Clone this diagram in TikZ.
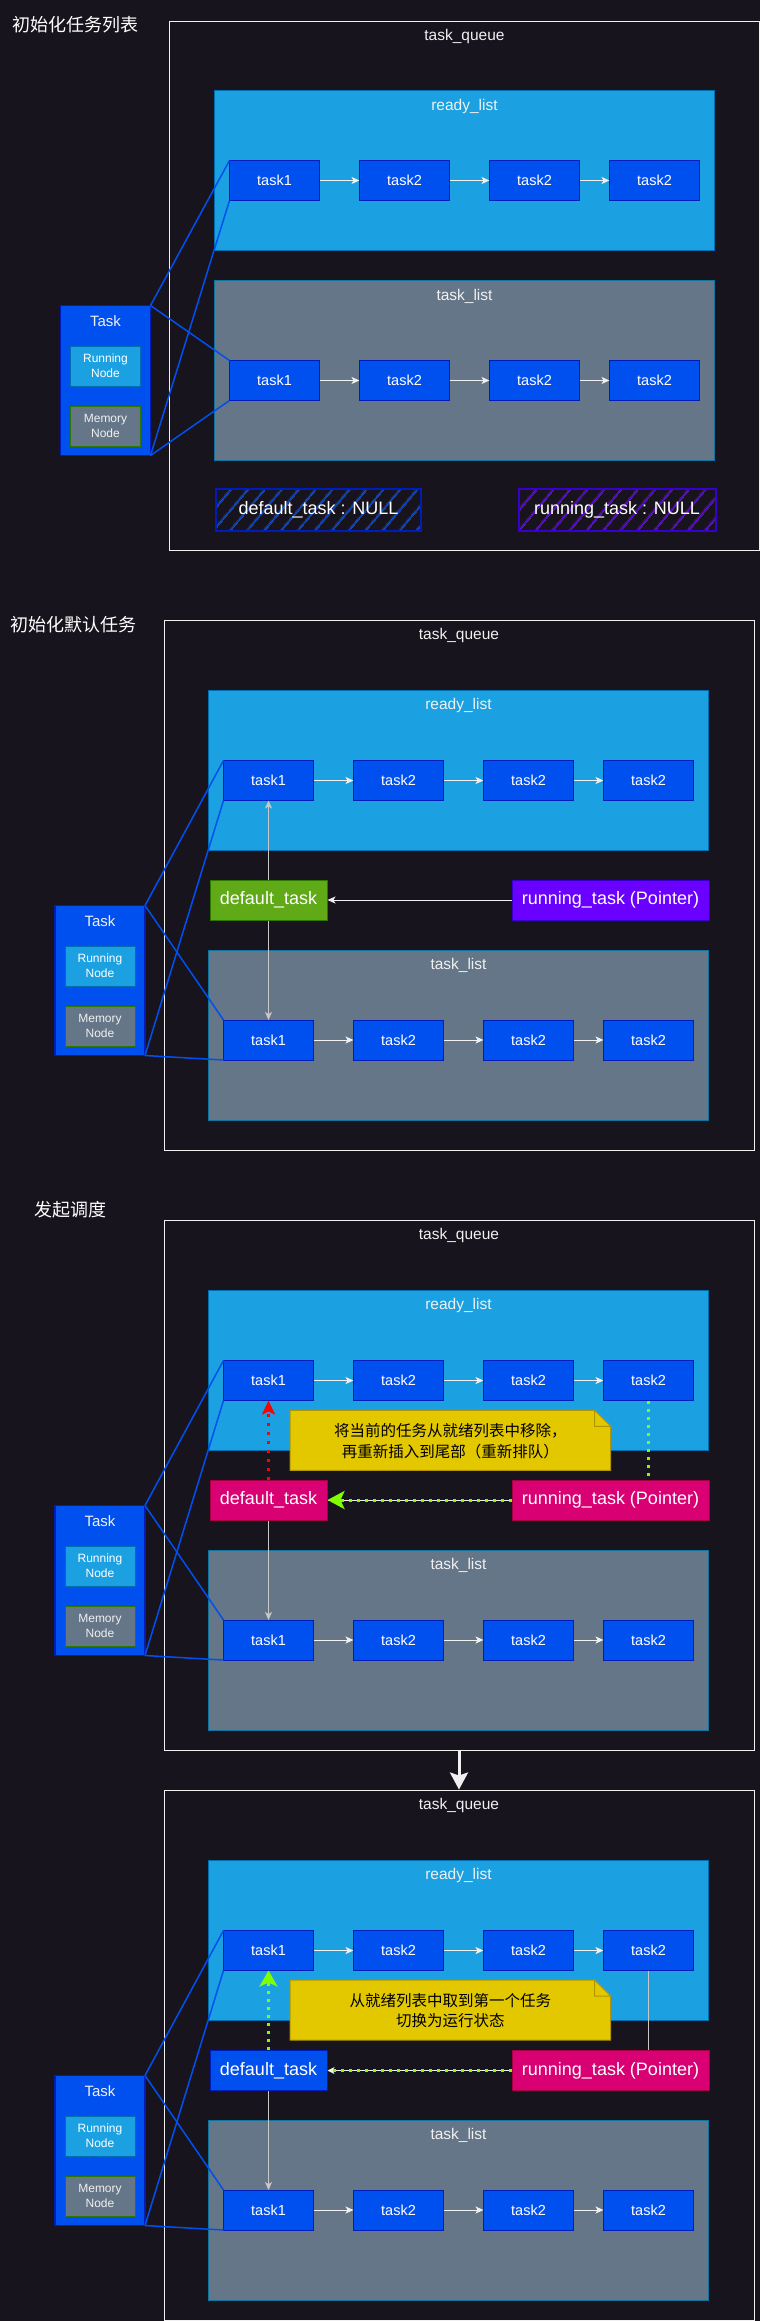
\documentclass[tikz,border=0pt]{standalone}
\usepackage{fontspec}
\setmainfont{Liberation Sans}
\newfontfamily\cjk{Noto Sans CJK SC}
\usepackage{tikz}
\usetikzlibrary{arrows.meta,shapes,positioning,calc,patterns.meta}
\definecolor{canvas}{HTML}{18141D}
\definecolor{taskblue}{HTML}{0050EF}
\definecolor{taskedge}{HTML}{001DBC}
\definecolor{readycyan}{HTML}{1BA1E2}
\definecolor{readyedge}{HTML}{006EAF}
\definecolor{listgrey}{HTML}{647687}
\definecolor{listedge}{HTML}{10739E}
\definecolor{defgreen}{HTML}{60A917}
\definecolor{defedge}{HTML}{2D7600}
\definecolor{runviolet}{HTML}{6A00FF}
\definecolor{runedge}{HTML}{3700CC}
\definecolor{pointmag}{HTML}{D80073}
\definecolor{magedge}{HTML}{A50040}
\definecolor{noteyellow}{HTML}{E3C800}
\definecolor{noteedge}{HTML}{B09500}
\definecolor{limegreen}{HTML}{80FF00}
\definecolor{softwhite}{HTML}{F0F0F0}
\definecolor{greywire}{HTML}{C8C8C8}

% one row of list entries
\newcommand{\taskrow}[3]{%
  \node[taskbox] (#1a) at (#2,#3) {task1};
  \node[taskbox, right=40pt of #1a] (#1b) {task2};
  \node[taskbox, right=40pt of #1b] (#1c) {task2};
  \node[taskbox, right=30pt of #1c] (#1d) {task2};
  \draw[link] (#1a) -- (#1b);
  \draw[link] (#1b) -- (#1c);
  \draw[link] (#1c) -- (#1d);}
% the Task struct on the left
\newcommand{\taskcard}[3]{%
  \node[cardbox] (#1) at (#2,#3) {};
  \node[cardtitle] (#1t) at ([yshift=-15.5pt]#1.north) {Task};
  \node[runnode, below=40pt of #1.north] (#1run) {Running\\Node};
  \node[memnode, below=20pt of #1run] (#1mem) {Memory\\Node};}
\newcommand{\zoomlines}[3]{%
  \draw[zoomline] (#1.north east) -- (#2.north west);
  \draw[zoomline] (#1.south east) -- (#2.south west);
  \draw[zoomline] (#1.north east) -- (#3.north west);
  \draw[zoomline] (#1.south east) -- (#3.south west);}

\begin{document}
\begin{tikzpicture}[
    x=1pt, y=-1pt,
    titletext/.style={anchor=west, inner sep=0pt, text=white, font=\cjk\fontsize{18}{22}\selectfont},
    queuebox/.style={rectangle, draw=softwhite, line width=1pt, minimum width=590pt, minimum height=530pt},
    readybox/.style={rectangle, draw=readyedge, fill=readycyan, line width=1pt, minimum width=500pt, minimum height=160pt},
    listbox/.style={rectangle, draw=listedge, fill=listgrey, line width=1pt, minimum width=500pt},
    headlabel/.style={inner sep=0pt, text=softwhite, font=\fontsize{15.5}{18}\selectfont},
    taskbox/.style={rectangle, draw=taskedge, fill=taskblue, minimum width=90pt, minimum height=40pt, inner sep=0pt, outer sep=0pt, text=white, font=\fontsize{14.5}{17}\selectfont},
    cardbox/.style={rectangle, draw=taskedge, fill=taskblue, line width=1.5pt, minimum width=90pt, minimum height=150pt, anchor=north, outer sep=0pt},
    cardtitle/.style={inner sep=0pt, text=softwhite, font=\fontsize{15}{18}\selectfont},
    runnode/.style={rectangle, draw=readyedge, fill=readycyan, minimum width=70pt, minimum height=40pt, inner sep=0pt, align=center, text=white, font=\fontsize{12}{15}\selectfont},
    memnode/.style={rectangle, draw=defedge, fill=listgrey, minimum width=70pt, minimum height=40pt, inner sep=0pt, align=center, text=softwhite, font=\fontsize{12}{15}\selectfont},
    pointerbox/.style={rectangle, line width=1pt, minimum height=40pt, inner sep=0pt, text=white, font=\fontsize{18}{21}\selectfont},
    nullbox/.style={rectangle, line width=2pt, minimum height=41.5pt, inner sep=0pt, text=white, font=\fontsize{18}{21}\selectfont},
    notepaper/.style={fill=noteyellow, draw=noteedge, line width=1pt},
    notetext/.style={align=center, inner sep=0pt, text=black, font=\cjk\fontsize{15.5}{20.5}\selectfont},
    link/.style={draw=softwhite, line width=1pt, -{Stealth[length=8pt, width=7pt, inset=2pt]}},
    greyarrow/.style={draw=greywire, line width=1pt, -{Stealth[length=8pt, width=7pt, inset=2pt]}},
    greyline/.style={draw=greywire, line width=1pt},
    zoomline/.style={draw=taskblue, line width=1.5pt},
    thinwhite/.style={draw=softwhite, line width=1pt},
    limehop/.style={draw=limegreen, line width=3pt, dash pattern=on 3pt off 5pt},
    redhop/.style={draw=red, line width=2.5pt, dash pattern=on 2.5pt off 6.5pt, -{Stealth[length=14pt, width=13pt, inset=3pt]}},
    bigarrow/.style={draw=softwhite, line width=3pt, -{Stealth[length=17pt, width=18pt, inset=3pt]}}
]
    \useasboundingbox[fill=canvas] (0,0) rectangle (760,2321);

    % 1: empty lists
    \node[titletext] (t1) at (12,25) {初始化任务列表};
    \node[queuebox, minimum height=529pt] (p1q) at (464.5,285.5) {};
    \node[headlabel] (p1qt) at ([yshift=-15.5pt]p1q.north) {task\_queue};
    \node[readybox] (p1ready) at (464.5,170.5) {};
    \node[headlabel] (p1readyt) at ([yshift=-16pt]p1ready.north) {ready\_list};
    \node[listbox, minimum height=180pt] (p1tasks) at (464.5,370.5) {};
    \node[headlabel] (p1taskst) at ([yshift=-16pt]p1tasks.north) {task\_list};
    \taskrow{p1r}{274.5}{180.5}
    \taskrow{p1l}{274.5}{380.5}
    \taskcard{p1card}{105.5}{305.5}
    \zoomlines{p1card}{p1ra}{p1la}
    \node[nullbox, draw=taskedge, pattern={Lines[angle=50, distance=13pt, line width=1.5pt]}, pattern color=taskblue, minimum width=205pt] (p1def) at (318.5,510) {default\_task : NULL};
    \node[nullbox, draw=runedge, pattern={Lines[angle=50, distance=13pt, line width=1.5pt]}, pattern color=runviolet, minimum width=197pt] (p1run) at (617,510) {running\_task : NULL};

    % 2: default task
    \node[titletext] (t2) at (10,624.5) {初始化默认任务};
    \node[queuebox] (p2q) at (459,885) {};
    \node[headlabel] (p2qt) at ([yshift=-16pt]p2q.north) {task\_queue};
    \node[readybox] (p2ready) at (458.5,770) {};
    \node[headlabel] (p2readyt) at ([yshift=-16pt]p2ready.north) {ready\_list};
    \node[listbox, minimum height=170pt] (p2tasks) at (458.5,1035) {};
    \node[headlabel] (p2taskst) at ([yshift=-16pt]p2tasks.north) {task\_list};
    \taskrow{p2r}{268.5}{780.5}
    \taskrow{p2l}{268.5}{1040}
    \taskcard{p2card}{100}{905.5}
    \zoomlines{p2card}{p2ra}{p2la}
    \node[pointerbox, fill=defgreen, draw=defedge, minimum width=117pt] (p2def) at (268.5,900) {default\_task};
    \node[pointerbox, fill=runviolet, draw=runedge, minimum width=197pt] (p2run) at (610.5,900) {running\_task (Pointer)};
    \draw[greyarrow] (p2def) -- (p2ra);
    \draw[greyarrow] (p2def) -- (p2la);
    \draw[link] (p2run) -- (p2def);

    % 3: schedule
    \node[titletext] (t3) at (34,1209.5) {发起调度};
    \node[queuebox] (p3q) at (459,1485) {};
    \node[headlabel] (p3qt) at ([yshift=-16pt]p3q.north) {task\_queue};
    \node[readybox] (p3ready) at (458.5,1370) {};
    \node[headlabel] (p3readyt) at ([yshift=-16pt]p3ready.north) {ready\_list};
    \node[listbox, minimum height=180pt] (p3tasks) at (458.5,1640) {};
    \node[headlabel] (p3taskst) at ([yshift=-16pt]p3tasks.north) {task\_list};
    \taskrow{p3r}{268.5}{1380.5}
    \taskrow{p3l}{268.5}{1640}
    \taskcard{p3card}{100}{1505.5}
    \zoomlines{p3card}{p3ra}{p3la}
    \node[pointerbox, fill=pointmag, draw=magedge, minimum width=117pt] (p3def) at (268.5,1500) {default\_task};
    \node[pointerbox, fill=pointmag, draw=magedge, minimum width=197pt] (p3run) at (610.5,1500) {running\_task (Pointer)};
    \filldraw[notepaper] (290,1410.4) -- (594.7,1410.4) -- (610.7,1426.4) -- (610.7,1470.4) -- (290,1470.4) -- cycle;
    \filldraw[notepaper] (594.7,1410.4) -- (594.7,1426.4) -- (610.7,1426.4) -- cycle;
    \node[notetext] (p3note) at (450.3,1441) {将当前的任务从就绪列表中移除，\\再重新插入到尾部（重新排队）};
    \draw[redhop] (p3def) -- (p3ra);
    \draw[greyarrow] (p3def) -- (p3la);
    \draw[thinwhite] (p3run) -- (p3def);
    \draw[limehop, -{Stealth[length=17pt, width=18pt, inset=4pt]}] (p3run) -- (p3def);
    \draw[limehop] (p3rd.south) -- (p3rd.south |- p3run.north);

    % 4: switch to running
    \node[queuebox] (p4q) at (459,2055) {};
    \node[headlabel] (p4qt) at ([yshift=-16pt]p4q.north) {task\_queue};
    \node[readybox] (p4ready) at (458.5,1940) {};
    \node[headlabel] (p4readyt) at ([yshift=-16pt]p4ready.north) {ready\_list};
    \node[listbox, minimum height=180pt] (p4tasks) at (458.5,2210) {};
    \node[headlabel] (p4taskst) at ([yshift=-16pt]p4tasks.north) {task\_list};
    \taskrow{p4r}{268.5}{1950.5}
    \taskrow{p4l}{268.5}{2210}
    \taskcard{p4card}{100}{2075.5}
    \zoomlines{p4card}{p4ra}{p4la}
    \node[pointerbox, fill=taskblue, draw=taskedge, minimum width=117pt] (p4def) at (268.5,2070.5) {default\_task};
    \node[pointerbox, fill=pointmag, draw=magedge, minimum width=197pt] (p4run) at (610.5,2070.5) {running\_task (Pointer)};
    \filldraw[notepaper] (290,1980) -- (594.7,1980) -- (610.7,1996) -- (610.7,2040) -- (290,2040) -- cycle;
    \filldraw[notepaper] (594.7,1980) -- (594.7,1996) -- (610.7,1996) -- cycle;
    \node[notetext] (p4note) at (450.3,2010.5) {从就绪列表中取到第一个任务\\切换为运行状态};
    \draw[limehop, -{Stealth[length=16pt, width=18pt, inset=4pt]}] (p4def) -- (p4ra);
    \draw[greyarrow] (p4def) -- (p4la);
    \draw[greyline] (p4rd.south) -- (p4rd.south |- p4run.north);
    \draw[thinwhite, -{Stealth[length=7pt, width=7pt, inset=2pt]}] (p4run) -- (p4def);
    \draw[limehop, shorten >=5pt] (p4run) -- (p4def);

    \draw[bigarrow] (p3q.south) -- (p4q.north);
\end{tikzpicture}
\end{document}
